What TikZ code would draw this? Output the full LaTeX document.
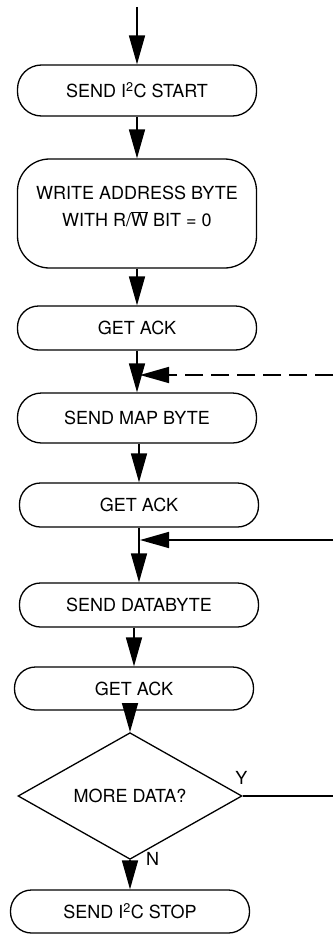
\documentclass[tikz,border=0pt]{standalone}
\usepackage{fontspec}
\setmainfont{TeX Gyre Heros}
\usetikzlibrary{shapes.geometric,arrows.meta}

\begin{document}
\begin{tikzpicture}[x=1pt,y=-1pt,
  every node/.style={font=\fontsize{18}{21}\selectfont},
  box/.style={draw,line width=1.3pt,rounded corners=21pt,minimum width=239pt,minimum height=44pt,inner sep=0pt},
  test/.style={draw,line width=1.3pt,diamond,minimum width=224pt,minimum height=93pt,inner sep=0pt},
  arr/.style={line width=1.6pt,-{Triangle[length=29pt,width=16pt]}}]
\useasboundingbox (0,0) rectangle (333,934);
\coordinate (entry) at (137,7);
\node[box,minimum height=51pt,rounded corners=24pt] (start) at (137,90.5) {SEND I\textsuperscript{2}C START};
\node[box,minimum height=109pt,rounded corners=32pt,align=center,font=\fontsize{18}{27}\selectfont,text depth=14pt] (addr) at (137,213.5) {WRITE ADDRESS BYTE\\WITH R/$\overline{\mbox{W}}$ BIT = 0};
\node[box] (ack1) at (137,328) {GET ACK};
\node[box,minimum height=50pt,rounded corners=24pt] (map) at (137,418) {SEND MAP BYTE};
\node[box] (ack2) at (139,505) {GET ACK};
\node[box] (data) at (139,605) {SEND DATABYTE};
\node[box,minimum height=43pt] (ack3) at (134,688.5) {GET ACK};
\node[test] (more) at (130,796) {MORE DATA?};
\node[box,minimum height=43pt] (stop) at (130,911.5) {SEND I\textsuperscript{2}C STOP};
\node (yes) at (241.5,777.5) {Y};
\node (no) at (152.5,858.5) {N};
\coordinate (dashin) at (333,375);
\coordinate (loopin) at (333,540);
\draw[arr] (entry) -- (start.north);
\draw[arr] (start.south) -- (addr.north);
\draw[arr] (addr.south) -- (ack1.north);
\draw[arr] (ack1.south) -- (map.north);
\draw[arr] (map.south -| ack2.north) -- (ack2.north);
\draw[arr] (ack2.south) -- (data.north);
\draw[arr] (data.south -| ack3.north) -- (ack3.north);
\draw[arr] (ack3.south -| more.north) -- (more.north);
\draw[arr] (more.south) -- (stop.north);
\draw[arr,dash pattern=on 18pt off 8pt,shorten >=3pt] (dashin) -- (ack1.south |- dashin);
\draw[arr,shorten >=1pt] (loopin) -- (ack2.south |- loopin);
\draw[line width=1.6pt] (more.east) -- (more.east -| loopin);
\end{tikzpicture}
\end{document}
